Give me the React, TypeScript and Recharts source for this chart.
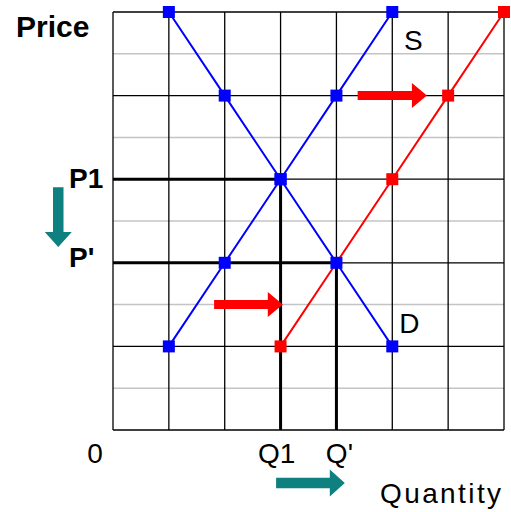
import React from "react";
import {
  ComposedChart,
  Line,
  XAxis,
  YAxis,
  CartesianGrid,
  ReferenceLine,
  ReferenceDot,
  Label,
} from "recharts";

// ---- data ----
const demandQ = [1, 2, 3, 4, 5];
const demandP = [10, 8, 6, 4, 2];
const supplyQ = [1, 2, 3, 4, 5];
const supplyP = [2, 4, 6, 8, 10];
const newSupplyQ = [3, 4, 5, 6, 7];
const newSupplyP = [2, 4, 6, 8, 10];
const newSupplyMarked = [true, false, true, true, true];

const originalEqQ = 3;
const originalEqP = 6;
const newEqQ = 4;
const newEqP = 4;

const priceTicks = [originalEqP, newEqP];
const priceTickLabels = ["P1", "P'"];
const quantityTicks = [0, originalEqQ, newEqQ];
const quantityTickLabels = ["0", "Q1", "Q'"];

const majorPriceLines = [0, 2, 4, 6, 8, 10];
const minorPriceLines = [1, 3, 5, 7, 9];
const quantityLines = [0, 1, 2, 3, 4, 5, 6, 7];

// shift arrows: [q1, p1, q2, p2]
const redArrows = [
  [4.38, 8, 5.62, 8],
  [1.81, 3, 3.04, 3],
];
const tealArrows = [
  [-0.98, 5.81, -0.98, 4.38],
  [2.92, -1.27, 4.15, -1.27],
];

const demand = demandQ.map((q, i) => ({ q, p: demandP[i], mark: true }));
const supply = supplyQ.map((q, i) => ({ q, p: supplyP[i], mark: true }));
const newSupply = newSupplyQ.map((q, i) => ({
  q,
  p: newSupplyP[i],
  mark: newSupplyMarked[i],
}));
const p1Path = [
  { q: 0, p: originalEqP },
  { q: originalEqQ, p: originalEqP },
  { q: originalEqQ, p: 0 },
];
const pPrimePath = [
  { q: 0, p: newEqP },
  { q: newEqQ, p: newEqP },
  { q: newEqQ, p: 0 },
];

const FONT = "'Liberation Sans', Arial, sans-serif";
const BLUE = "#0000ff";
const RED = "#ff0000";
const TEAL = "#0e8080";

const squareDot = (color: string) => (props: any) => {
  const { cx, cy, payload, index } = props;
  if (!payload || !payload.mark || cx == null) return <g key={`n${index}`} />;
  return (
    <rect
      key={`d${index}`}
      x={cx - 6}
      y={cy - 6}
      width={12}
      height={12}
      fill={color}
    />
  );
};

const arrowShape =
  (color: string, shaft: number, headLen: number, headW: number) =>
  (props: any) => {
    const { x1, y1, x2, y2 } = props;
    const dx = x2 - x1;
    const dy = y2 - y1;
    const len = Math.sqrt(dx * dx + dy * dy) || 1;
    const ux = dx / len;
    const uy = dy / len;
    const nx = -uy;
    const ny = ux;
    const bx = x2 - ux * headLen;
    const by = y2 - uy * headLen;
    const s = shaft / 2;
    const h = headW / 2;
    const pts = [
      [x1 + nx * s, y1 + ny * s],
      [bx + nx * s, by + ny * s],
      [bx + nx * h, by + ny * h],
      [x2, y2],
      [bx - nx * h, by - ny * h],
      [bx - nx * s, by - ny * s],
      [x1 - nx * s, y1 - ny * s],
    ]
      .map((p) => p.join(","))
      .join(" ");
    return <polygon points={pts} fill={color} stroke="none" />;
  };

const yTickOffsets: Record<string, number> = { P1: 9, "P'": 4 };
const xTickOffsets: Record<string, number> = { "0": -18, Q1: -4, "Q'": 3 };

const YTick = (props: any) => {
  const { x, y, payload } = props;
  const label = priceTickLabels[priceTicks.indexOf(payload.value)];
  return (
    <text
      x={x - 34}
      y={y + (yTickOffsets[label] ?? 0)}
      textAnchor="start"
      fontFamily={FONT}
      fontWeight="bold"
      fontSize={28}
      fill="#000"
    >
      {label}
    </text>
  );
};

const XTick = (props: any) => {
  const { x, y, payload } = props;
  const label = quantityTickLabels[quantityTicks.indexOf(payload.value)];
  return (
    <text
      x={x + (xTickOffsets[label] ?? 0)}
      y={y + 33}
      textAnchor="middle"
      fontFamily={FONT}
      fontSize={28}
      fill="#000"
    >
      {label}
    </text>
  );
};

export default function App() {
  return (
    <div>
      <style>{"body{margin:0}"}</style>
      <ComposedChart
        width={511}
        height={512}
        margin={{ top: 12, right: 7, left: 0, bottom: 0 }}
      >
        <CartesianGrid
          horizontalValues={minorPriceLines}
          vertical={false}
          stroke="#c4c4c4"
          strokeWidth={1.5}
        />
        <CartesianGrid
          horizontalValues={majorPriceLines}
          verticalValues={quantityLines}
          stroke="#000"
          strokeWidth={1.3}
        />
        <XAxis
          type="number"
          dataKey="q"
          domain={[0, 7]}
          ticks={quantityTicks}
          height={82}
          axisLine={false}
          tickLine={false}
          tickSize={0}
          tickMargin={0}
          tick={<XTick />}
          interval={0}
        >
          <Label
            content={(p: any) => (
              <text
                x={p.viewBox.x + 267}
                y={p.viewBox.y + 73}
                textAnchor="start"
                fontFamily={FONT}
                fontSize={28}
                letterSpacing={2.4}
                fill="#000"
              >
                Quantity
              </text>
            )}
          />
        </XAxis>
        <YAxis
          type="number"
          domain={[0, 10]}
          ticks={priceTicks}
          width={113}
          axisLine={false}
          tickLine={false}
          tickSize={0}
          tickMargin={10}
          tick={<YTick />}
          interval={0}
        >
          <Label
            content={(p: any) => (
              <text
                x={p.viewBox.x + 16}
                y={p.viewBox.y + 25}
                textAnchor="start"
                fontFamily={FONT}
                fontWeight="bold"
                fontSize={30}
                fill="#000"
              >
                Price
              </text>
            )}
          />
        </YAxis>

        <Line
          data={p1Path}
          dataKey="p"
          type="linear"
          stroke="#000"
          strokeWidth={3}
          dot={false}
          activeDot={false}
          isAnimationActive={false}
        />
        <Line
          data={pPrimePath}
          dataKey="p"
          type="linear"
          stroke="#000"
          strokeWidth={3}
          dot={false}
          activeDot={false}
          isAnimationActive={false}
        />
        <Line
          data={demand}
          dataKey="p"
          type="linear"
          stroke={BLUE}
          strokeWidth={2}
          dot={squareDot(BLUE)}
          activeDot={false}
          isAnimationActive={false}
        />
        <Line
          data={supply}
          dataKey="p"
          type="linear"
          stroke={BLUE}
          strokeWidth={2}
          dot={squareDot(BLUE)}
          activeDot={false}
          isAnimationActive={false}
        />
        <Line
          data={newSupply}
          dataKey="p"
          type="linear"
          stroke={RED}
          strokeWidth={2}
          dot={squareDot(RED)}
          activeDot={false}
          isAnimationActive={false}
        />

        {redArrows.map((a, i) => (
          <ReferenceLine
            key={`r${i}`}
            segment={[
              { x: a[0], y: a[1] },
              { x: a[2], y: a[3] },
            ]}
            ifOverflow="visible"
            shape={arrowShape(RED, 9, 15, 25)}
          />
        ))}
        {tealArrows.map((a, i) => (
          <ReferenceLine
            key={`t${i}`}
            segment={[
              { x: a[0], y: a[1] },
              { x: a[2], y: a[3] },
            ]}
            ifOverflow="visible"
            shape={arrowShape(TEAL, 10.5, 15, 27)}
          />
        ))}

        <ReferenceDot
          x={supplyQ[supplyQ.length - 1]}
          y={supplyP[supplyP.length - 1]}
          r={0}
          fill="none"
          stroke="none"
          ifOverflow="visible"
          label={(p: any) => (
            <text
              x={p.viewBox.x + 21}
              y={p.viewBox.y + 38}
              textAnchor="middle"
              fontFamily={FONT}
              fontSize={28}
              fill="#000"
            >
              S
            </text>
          )}
        />
        <ReferenceDot
          x={demandQ[demandQ.length - 1]}
          y={demandP[demandP.length - 1]}
          r={0}
          fill="none"
          stroke="none"
          ifOverflow="visible"
          label={(p: any) => (
            <text
              x={p.viewBox.x + 17}
              y={p.viewBox.y - 13}
              textAnchor="middle"
              fontFamily={FONT}
              fontSize={28}
              fill="#000"
            >
              D
            </text>
          )}
        />
      </ComposedChart>
    </div>
  );
}
